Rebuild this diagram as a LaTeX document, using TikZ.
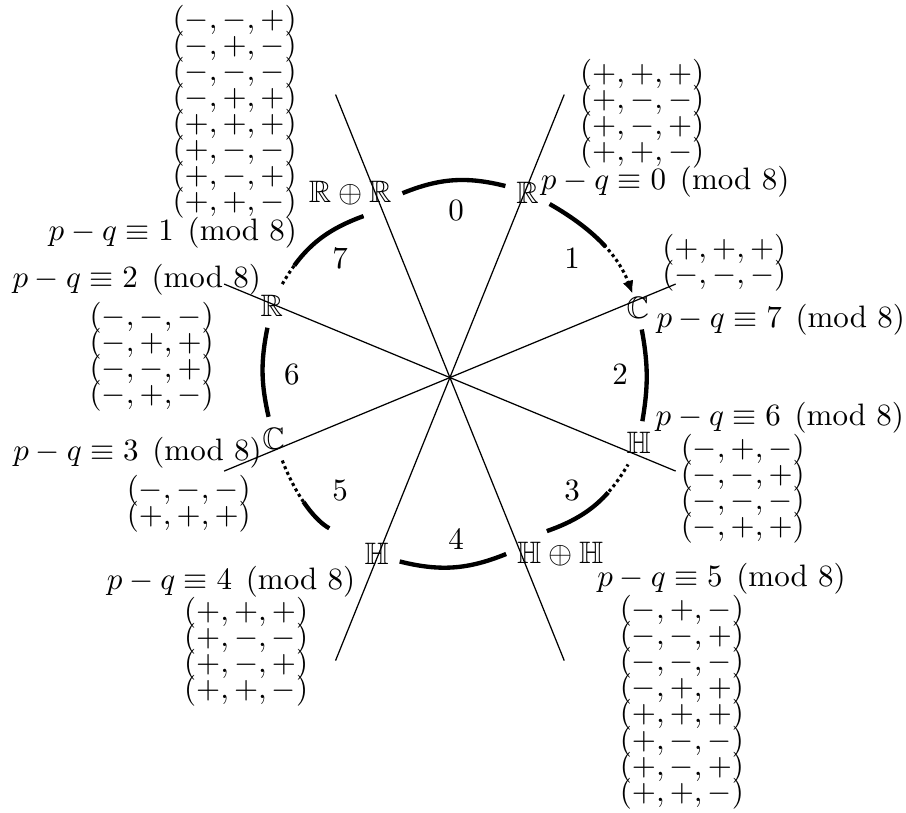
\documentclass[tikz,border=0pt]{standalone}
\usepackage{amsmath,amssymb}
\usetikzlibrary{arrows.meta}
\newcommand{\tnl}{\\[-3.6pt]}
\begin{document}
\begin{tikzpicture}[>={Latex[length=4pt,width=3.5pt]}, scale=1,
    clk/.style={line width=1.4pt},
    fade/.style={line width=1pt, densely dotted, postaction={draw, line width=1.4pt, dash pattern=on #1 off 10cm}},
    signs/.style={align=center}]
    \useasboundingbox (-5.10,-4.93) rectangle (5.17,4.28);
    % axes
    \foreach \a/\r in {68/3.46, 112/3.46, 22.5/2.77, 157.5/2.77}
        \draw (\a:\r)--(\a+180:\r);
    % algebras round the clock
    \node (Rt) at (0.88,2.09) {$\mathbb{R}$};
    \node (RR) at (-1.13,2.09) {$\mathbb{R}\oplus\mathbb{R}$};
    \node (Cr) at (2.13,0.79) {$\mathbb{C}$};
    \node (Hr) at (2.14,-0.74) {$\mathbb{H}$};
    \node (HH) at (1.25,-2.00) {$\mathbb{H}\oplus\mathbb{H}$};
    \node (Hl) at (-0.83,-2.00) {$\mathbb{H}$};
    \node (Cl) at (-2.00,-0.69) {$\mathbb{C}$};
    \node (Rl) at (-2.02,0.81) {$\mathbb{R}$};
    \draw[clk] (RR.east) to[bend left=18] (Rt);
    \draw[fade=0.8cm, ->, shorten >=5pt] (Rt) to[bend left=20] (Cr.center);
    \draw[clk] (Cr) to[bend left=10] (Hr);
    \draw[fade=0.83cm] (HH.120) to[bend right=20] (Hr);
    \draw[clk] (HH.west) to[bend left=18] (Hl);
    \draw[fade=0.42cm, shorten <=9pt] (Hl) to[bend left=20] (Cl);
    \draw[clk] (Cl) to[bend left=12] (Rl);
    \draw[fade=0.98cm] (RR.-60) to[bend right=20] (Rl);
    \begin{scope}[shift={(0.07,0.03)}]
        \foreach \n in {0,...,7}
            \node (s\n) at ({90-45*\n}:1.86) {$\n$};
    \end{scope}
    % residues
    \node (m0) at (2.44,2.22) {$p-q\equiv 0\pmod 8$};
    \node (m1) at (-3.14,1.64) {$p-q\equiv 1\pmod 8$};
    \node (m2) at (-3.55,1.11) {$p-q\equiv 2\pmod 8$};
    \node (m3) at (-3.54,-0.85) {$p-q\equiv 3\pmod 8$};
    \node (m4) at (-2.48,-2.31) {$p-q\equiv 4\pmod 8$};
    \node (m5) at (3.08,-2.28) {$p-q\equiv 5\pmod 8$};
    \node (m6) at (3.74,-0.45) {$p-q\equiv 6\pmod 8$};
    \node (m7) at (3.75,0.65) {$p-q\equiv 7\pmod 8$};
    % signatures
    \node[signs] (t0) at (2.18,2.99) {$(+,+,+)$\tnl$(+,-,-)$\tnl$(+,-,+)$\tnl$(+,+,-)$};
    \node[signs] (t1) at (-2.44,3.01) {$(-,-,+)$\tnl$(-,+,-)$\tnl$(-,-,-)$\tnl$(-,+,+)$\tnl$(+,+,+)$\tnl$(+,-,-)$\tnl$(+,-,+)$\tnl$(+,+,-)$};
    \node[signs] (t2) at (-3.38,0.24) {$(-,-,-)$\tnl$(-,+,+)$\tnl$(-,-,+)$\tnl$(-,+,-)$};
    \node[signs] (t3) at (-2.96,-1.43) {$(-,-,-)$\tnl$(+,+,+)$};
    \node[signs] (t4) at (-2.31,-3.11) {$(+,+,+)$\tnl$(+,-,-)$\tnl$(+,-,+)$\tnl$(+,+,-)$};
    \node[signs] (t5) at (2.63,-3.68) {$(-,+,-)$\tnl$(-,-,+)$\tnl$(-,-,-)$\tnl$(-,+,+)$\tnl$(+,+,+)$\tnl$(+,-,-)$\tnl$(+,-,+)$\tnl$(+,+,-)$};
    \node[signs] (t6) at (3.32,-1.26) {$(-,+,-)$\tnl$(-,-,+)$\tnl$(-,-,-)$\tnl$(-,+,+)$};
    \node[signs] (t7) at (3.11,1.30) {$(+,+,+)$\tnl$(-,-,-)$};
\end{tikzpicture}
\end{document}
